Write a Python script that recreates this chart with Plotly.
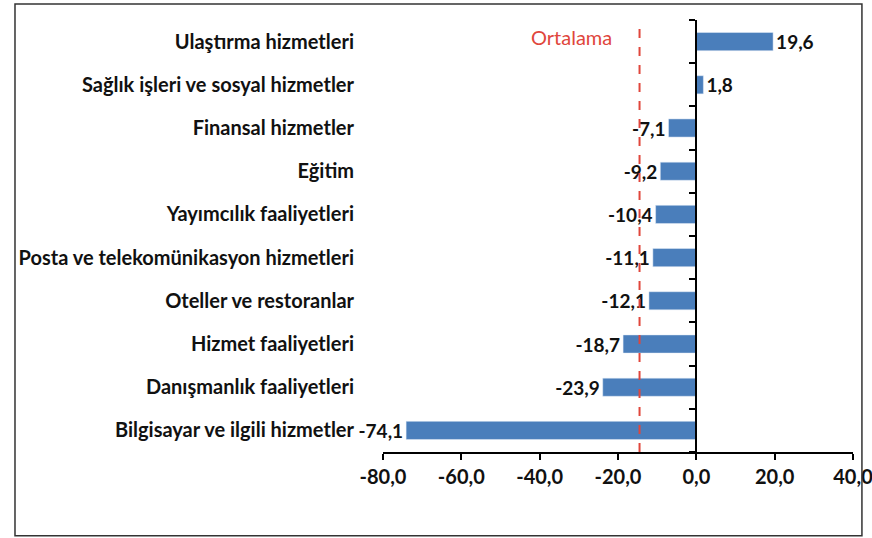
import plotly.graph_objects as go

# sektörler (yukarıdan aşağıya) ve değişim değerleri
sektorler = [
    "Ulaştırma hizmetleri",
    "Sağlık işleri ve sosyal hizmetler",
    "Finansal hizmetler",
    "Eğitim",
    "Yayımcılık faaliyetleri",
    "Posta ve telekomünikasyon hizmetleri",
    "Oteller ve restoranlar",
    "Hizmet faaliyetleri",
    "Danışmanlık faaliyetleri",
    "Bilgisayar ve ilgili hizmetler",
]
degerler = [19.6, 1.8, -7.1, -9.2, -10.4, -11.1, -12.1, -18.7, -23.9, -74.1]
ortalama = -14.5
x_ticks = [-80, -60, -40, -20, 0, 20, 40]

BLUE = "#4a7ebb"
RED = "#e0463c"
FONT = "Lato"
BOLD = dict(family=FONT, size=20, color="#111111", weight="bold")


def tr_num(v):
    # Turkish decimal comma, plain hyphen for the minus sign
    return f"{v:.1f}".replace(".", ",")


kategori_sirasi = sektorler[::-1]

fig = go.Figure()
fig.add_trace(go.Bar(
    y=sektorler, x=degerler, orientation="h", marker_color=BLUE,
    text=[tr_num(v) for v in degerler], textposition="outside", cliponaxis=False,
    constraintext="none", textfont=dict(BOLD, size=19), showlegend=False,
))
# invisible copy on a second y axis, used only to draw the axis line at x=0
fig.add_trace(go.Bar(
    y=sektorler, x=degerler, orientation="h", yaxis="y2", opacity=0,
    hoverinfo="skip", showlegend=False,
))

fig.add_vline(x=ortalama, line_dash="dash", line_color=RED, line_width=2)
fig.add_annotation(
    x=ortalama, y=1, xref="x", yref="paper", text="Ortalama", showarrow=False,
    xanchor="right", yanchor="top", xshift=-26, yshift=-3,
    font=dict(family=FONT, size=20, color=RED),
)

# frame around the whole chart
fig.add_shape(type="rect", xref="paper", yref="paper",
              x0=-0.783, x1=1.019, y0=-0.194, y1=1.037,
              line=dict(color="#333333", width=1.5))

fig.update_layout(
    width=872, height=538,
    margin=dict(l=383, r=19, t=20, b=86),
    paper_bgcolor="white", plot_bgcolor="white",
    bargap=0.58,
    font=dict(family=FONT, color="#111111"),
    xaxis=dict(
        range=[-80, 40], tickvals=x_ticks, ticktext=[tr_num(v) for v in x_ticks],
        showgrid=False, zeroline=False, automargin=False,
        showline=True, linecolor="black", linewidth=2,
        ticks="outside", ticklen=6, tickwidth=2, tickcolor="black",
        tickfont=BOLD, ticklabeloverflow="allow",
    ),
    yaxis=dict(
        type="category", categoryorder="array", categoryarray=kategori_sirasi,
        showgrid=False, zeroline=False, showline=False, ticks="", automargin=False,
        ticklabelstandoff=28,
        tickfont=BOLD,
    ),
    yaxis2=dict(
        type="category", categoryorder="array", categoryarray=kategori_sirasi,
        overlaying="y", anchor="free", position=2 / 3, automargin=False,
        showticklabels=False, showgrid=False, zeroline=False,
        showline=True, linecolor="black", linewidth=2,
        ticks="outside", tickson="boundaries", ticklen=6, tickwidth=2, tickcolor="black",
    ),
)

fig.write_html(
    "out.html",
    config={"displayModeBar": False},
    post_script="document.body.style.margin='0';document.body.style.overflow='hidden';",
)
